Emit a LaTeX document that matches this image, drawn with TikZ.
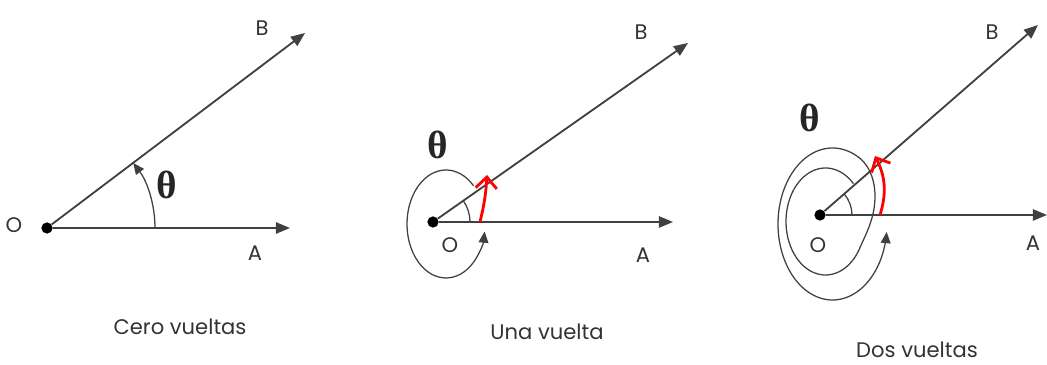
\documentclass[tikz,border=0pt]{standalone}
\usepackage{fontspec}
\setmainfont{Poppins}
\newfontfamily\tetafont{Liberation Serif}
\usetikzlibrary{arrows.meta,calc}

\tikzset{
  rayo/.style={draw=black!75, line width=1.3pt, -{Triangle[length=10pt,width=8pt]}},
  giro/.style={draw=black!75, line width=0.9pt},
  punta/.style={-{Triangle[length=8pt,width=7pt]}},
  roja/.style={draw=red, line width=2pt, -{Straight Barb[length=8pt,width=15pt]}},
  punto/.style={circle, fill=black, inner sep=0pt, minimum size=8pt},
  etiq/.style={font=\fontsize{15}{17}\selectfont, text=black!80},
  teta/.style={font=\fontsize{28}{30}\selectfont\tetafont\bfseries, text=black!85},
}

\begin{document}
\begin{tikzpicture}[x=0.025cm, y=0.025cm,
    declare function={bl(\t)=min(1,max(0,(\t-330)/90)); sm(\t)=bl(\t)*bl(\t)*(3-2*bl(\t));}]
  \useasboundingbox (0,0) rectangle (1047,365);

  % Cero vueltas
  \node[punto] (o1) at (47,137) {};
  \coordinate (a1) at (290,137);
  \coordinate (b1) at (305,332);
  \draw[rayo] (o1) -- (a1);
  \draw[rayo] (o1) -- (b1);
  \draw[giro, punta] ($(o1)+(108,0)$) arc[start angle=0, end angle=37, radius=108];
  \node[etiq] (lo1) at (14,140) {O};
  \node[etiq] (la1) at (255,112) {A};
  \node[etiq] (lb1) at (262,337) {B};
  \node[teta] (t1) at (167,180) {θ};
  \node[etiq] (c1) at (180,38) {Cero vueltas};

  % Una vuelta
  \node[punto] (o2) at (433,143) {};
  \coordinate (a2) at (673,143);
  \coordinate (b2) at (688,322);
  \draw[rayo] (o2) -- (a2);
  \draw[rayo] (o2) -- (b2);
  \draw[giro] ($(o2)+(37,0)$) arc[start angle=0, end angle=35, radius=37];
  % vuelta completa
  \draw[giro, punta] (446,141) ++(45:39 and 54)
    arc[start angle=45, end angle=352, x radius=39, y radius=54];
  \coordinate (r2a) at (480,143);
  \coordinate (r2b) at (487,190);
  \draw[roja] (r2a) to[bend right=5] (r2b);
  \node[etiq] (lo2) at (450,120) {O};
  \node[etiq] (la2) at (643,110) {A};
  \node[etiq] (lb2) at (641,333) {B};
  \node[teta] (t2) at (438,220) {θ};
  \node[etiq] (c2) at (547,33) {Una vuelta};

  % Dos vueltas
  \node[punto] (o3) at (820,150) {};
  \coordinate (a3) at (1047,150);
  \coordinate (b3) at (1038,340);
  \draw[rayo] (o3) -- (a3);
  \draw[rayo] (o3) -- (b3);
  \draw[giro] ($(o3)+(32,0)$) arc[start angle=0, end angle=41, radius=32];
  % dos vueltas completas (espiral)
  \draw[giro, punta] plot[domain=45:714, samples=240, variable=\x]
    ({825.5+7*sm(\x)+(39.5+15*sm(\x))*cos(\x)}, {143.5-2.5*sm(\x)+(53.5+22.5*sm(\x))*sin(\x)});
  \coordinate (r3a) at (880,150);
  \coordinate (r3b) at (875,209);
  \draw[roja] (r3a) to[bend right=22] (r3b);
  \node[etiq] (lo3) at (818,120) {O};
  \node[etiq] (la3) at (1033,122) {A};
  \node[etiq] (lb3) at (992,333) {B};
  \node[teta] (t3) at (810,247) {θ};
  \node[etiq] (c3) at (917,15) {Dos vueltas};
\end{tikzpicture}
\end{document}
